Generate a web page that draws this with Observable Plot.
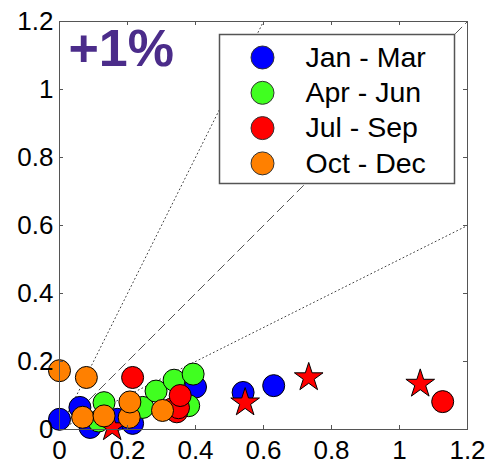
<!DOCTYPE html>
<html>
<head>
<meta charset="utf-8">
<script src="https://cdn.jsdelivr.net/npm/d3@7"></script>
<script src="https://cdn.jsdelivr.net/npm/@observablehq/plot@0.6"></script>
<style>
  body { margin: 0; background: #fff; }
</style>
</head>
<body>
<div id="chart"></div>
<script>
// Quarterly observations, [x, y]
const seasons = ["Jan - Mar", "Apr - Jun", "Jul - Sep", "Oct - Dec"];
const seasonColors = ["#0000ff", "#40ff20", "#ff0000", "#ff8000"];

const janMar = [
  [0.00, 0.030], [0.060, 0.065], [0.090, 0.006], [0.170, 0.030],
  [0.215, 0.018], [0.400, 0.125], [0.540, 0.109], [0.630, 0.129]
];
const aprJun = [
  [0.115, 0.025], [0.131, 0.079], [0.245, 0.065], [0.284, 0.113],
  [0.337, 0.145], [0.393, 0.163], [0.380, 0.070]
];
const julSep = [
  [0.215, 0.153], [0.330, 0.060], [0.345, 0.052], [0.350, 0.064],
  [0.355, 0.100], [1.127, 0.082]
];
const julSepStars = [
  [0.155, 0.006], [0.546, 0.079], [0.733, 0.153], [1.061, 0.134]
];
const octDec = [
  [0.000, 0.173], [0.079, 0.153], [0.068, 0.036], [0.131, 0.040],
  [0.205, 0.036], [0.207, 0.081], [0.303, 0.056]
];

const axisTicks = [0, 0.2, 0.4, 0.6, 0.8, 1, 1.2];
const axisMax = 1.2;
const panelLabel = "+1%";

// Reference lines through the origin: 1:1 (dashed), 2:1 and 1:2 (dotted)
const dashedSlopes = [1];
const dottedSlopes = [2, 0.5];
const segment = (k) => [[0, 0], [Math.min(axisMax, axisMax / k), Math.min(axisMax, axisMax * k)]];

const W = 490, H = 464;
const mL = 59, mR = 23, mT = 21, mB = 35;
const innerW = W - mL - mR, innerH = H - mT - mB;
const tickLen = 4;
const axisGray = "#555";
const font = "'Liberation Sans', Arial, Helvetica, sans-serif";

const px = (d) => d[0], py = (d) => d[1];
const circles = (data, color) =>
  Plot.dot(data, {x: px, y: py, r: 11, fill: color, stroke: "black", strokeWidth: 1});

const marks = [
  ...dashedSlopes.map((k) => Plot.line(segment(k), {x: px, y: py, stroke: "#555", strokeWidth: 1, strokeDasharray: "9,5"})),
  ...dottedSlopes.map((k) => Plot.line(segment(k), {x: px, y: py, stroke: "#444", strokeWidth: 1, strokeDasharray: "1,3"})),
  circles(janMar, seasonColors[0]),
  circles(aprJun, seasonColors[1]),
  circles(julSep, seasonColors[2]),
  Plot.dot(julSepStars, {x: px, y: py, symbol: "star", r: 9, fill: seasonColors[2], stroke: "black", strokeWidth: 1}),
  circles(octDec, seasonColors[3]),
  Plot.frame({stroke: axisGray, strokeWidth: 1}),
  // inward ticks on all four sides
  Plot.tickX(axisTicks, {x: (d) => d, insetTop: innerH - tickLen, stroke: axisGray}),
  Plot.tickX(axisTicks, {x: (d) => d, insetBottom: innerH - tickLen, stroke: axisGray}),
  Plot.tickY(axisTicks, {y: (d) => d, insetRight: innerW - tickLen, stroke: axisGray}),
  Plot.tickY(axisTicks, {y: (d) => d, insetLeft: innerW - tickLen, stroke: axisGray}),
  Plot.axisX({ticks: axisTicks, tickSize: 0, tickPadding: 11, tickFormat: d3.format("~g"), label: null, fontSize: 26, fill: "black"}),
  Plot.axisY({ticks: axisTicks, tickSize: 0, tickPadding: 6, tickFormat: d3.format("~g"), label: null, fontSize: 26, fill: "black"}),
  // legend
  Plot.frame({insetLeft: 160, insetTop: 13, insetRight: 13, insetBottom: 246, fill: "white", stroke: axisGray, strokeWidth: 1.5}),
  ...seasons.map((s, i) => Plot.dot([s], {frameAnchor: "top-left", dx: 203, dy: 36 + i * 35.3, r: 11.5, fill: seasonColors[i], stroke: "#333", strokeWidth: 1})),
  ...seasons.map((s, i) => Plot.text([s], {frameAnchor: "top-left", text: (d) => d, dx: 246, dy: 36 + i * 35.3, textAnchor: "start", lineAnchor: "middle", fontSize: 28.5, fill: "black"})),
  Plot.text([panelLabel], {frameAnchor: "top-left", text: (d) => d, dx: 9, dy: 8, textAnchor: "start", lineAnchor: "top", fontSize: 52, fontWeight: "bold", fill: "#4b2c8a"})
];

const chart = Plot.plot({
  width: W, height: H,
  marginLeft: mL, marginRight: mR, marginTop: mT, marginBottom: mB,
  x: {domain: [0, axisMax]},
  y: {domain: [0, axisMax]},
  style: {fontFamily: font, fontSize: "26px", background: "white", color: "black"},
  marks
});
document.getElementById("chart").appendChild(chart);
</script>
</body>
</html>
